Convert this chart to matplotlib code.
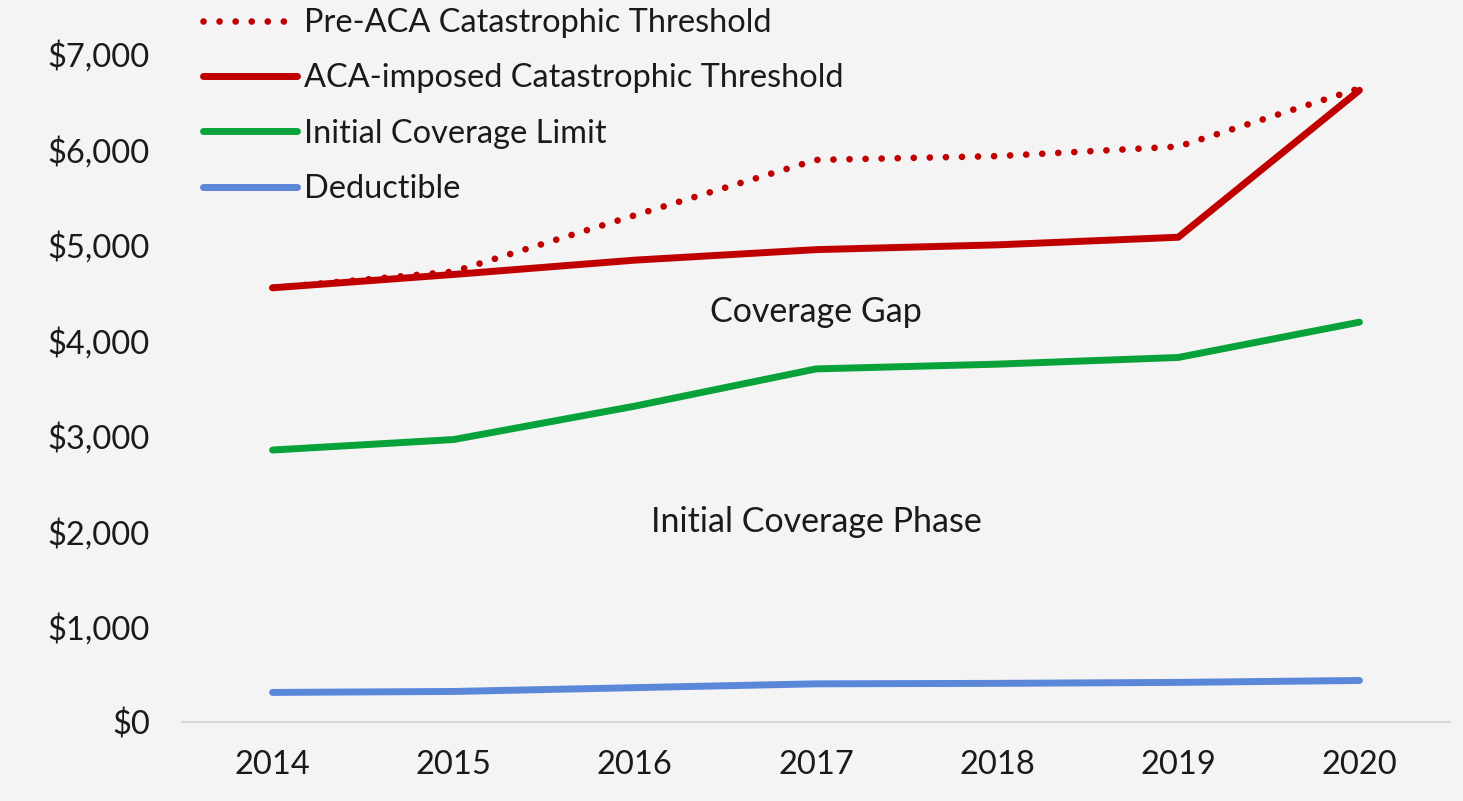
import numpy as np
import matplotlib.pyplot as plt
from matplotlib.ticker import FuncFormatter

years = ['2014', '2015', '2016', '2017', '2018', '2019', '2020']
pre_aca = [4550, 4720, 5310, 5890, 5930, 6030, 6640]
aca_cat = [4550, 4690, 4840, 4950, 5000, 5080, 6620]
icl = [2850, 2960, 3310, 3700, 3750, 3820, 4190]
deductible = [310, 320, 360, 400, 405, 415, 435]

bg = '#f4f4f4'
plt.rcParams['font.family'] = ['Lato', 'DejaVu Sans']

fig = plt.figure(figsize=(14.63, 8.01), dpi=100, facecolor=bg)
ax = fig.add_axes([182/1463, 79/801, 1268/1463, 722/801], facecolor=bg)

x = np.arange(len(years))
ax.plot(x, pre_aca, color='#c00000', lw=4.8, ls=(0, (0.01, 2.4)),
        dash_capstyle='round', label='Pre-ACA Catastrophic Threshold', zorder=3)
ax.plot(x, aca_cat, color='#c00000', lw=5, solid_capstyle='round',
        solid_joinstyle='round', label='ACA-imposed Catastrophic Threshold', zorder=2)
ax.plot(x, icl, color='#07a33a', lw=5, solid_capstyle='round',
        solid_joinstyle='round', label='Initial Coverage Limit')
ax.plot(x, deductible, color='#5b87d8', lw=5, solid_capstyle='round',
        solid_joinstyle='round', label='Deductible')

ax.text(3, 4296, 'Coverage Gap', ha='center', va='center', fontsize=24.5, color='#1a1a1a')
ax.text(3, 2096, 'Initial Coverage Phase', ha='center', va='center', fontsize=24.5, color='#1a1a1a')

ax.set_xlim(-0.5, 6.5)
ax.set_ylim(0, 7566)
ax.set_xticks(x)
ax.set_xticklabels(years)
ax.set_yticks(np.arange(0, 7001, 1000))
ax.yaxis.set_major_formatter(FuncFormatter(lambda v, p: '${:,.0f}'.format(v)))
ax.tick_params(axis='both', length=0, labelsize=23.5, colors='#1a1a1a')
ax.tick_params(axis='x', pad=20)
ax.tick_params(axis='y', pad=23)
for s in ['top', 'right', 'left']:
    ax.spines[s].set_visible(False)
ax.spines['bottom'].set_color('#d9d9d9')
ax.spines['bottom'].set_linewidth(1.5)

leg = ax.legend(loc='upper left', bbox_to_anchor=(203/1463, 1 - 8/801), bbox_transform=fig.transFigure,
                frameon=False, fontsize=23.4, handlelength=2.9, handletextpad=0.2,
                labelspacing=0.78, borderaxespad=0, borderpad=0)
for t in leg.get_texts():
    t.set_color('#1a1a1a')

fig.savefig('out.png', dpi=100, facecolor=bg)
